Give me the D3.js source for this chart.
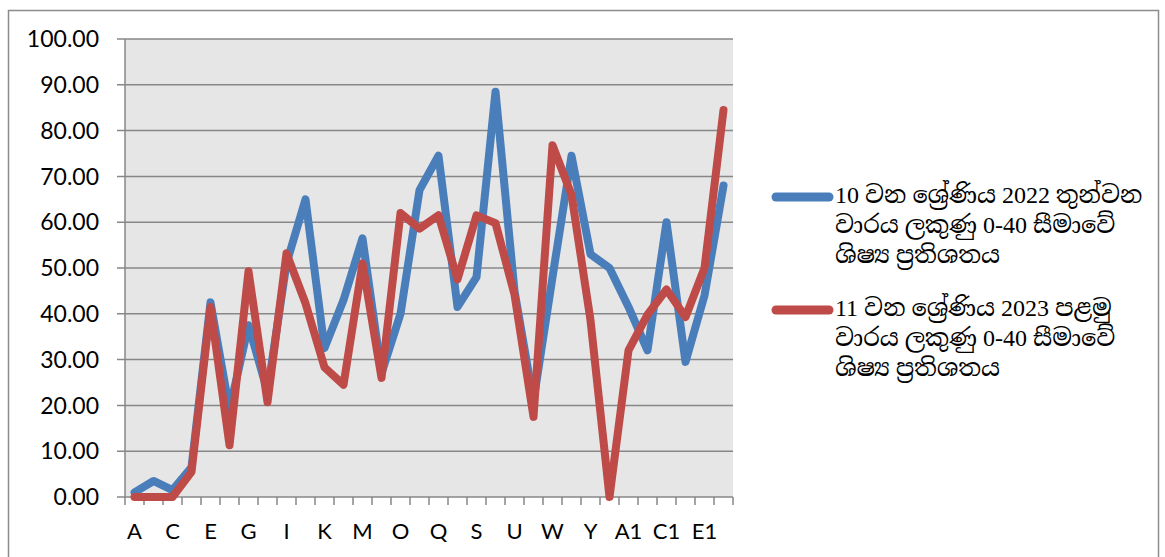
<!DOCTYPE html>
<html>
<head>
<meta charset="utf-8">
<script src="https://cdn.jsdelivr.net/npm/d3@7"></script>
<style>
  html, body { margin: 0; padding: 0; background: #fff; }
  svg { display: block; }
</style>
</head>
<body>
<svg id="chart" width="1165" height="557"></svg>
<script>
const categories = ["A","B","C","D","E","F","G","H","I","J","K","L","M","N","O","P","Q","R","S","T","U","V","W","X","Y","Z","A1","B1","C1","D1","E1","F1"];
const series2022 = [1, 3.5, 1.5, 6.5, 42.5, 19, 37.5, 23, 51, 65, 32.5, 43, 56.5, 27, 40, 67, 74.5, 41.5, 48, 88.5, 45, 21, 48, 74.5, 53, 50, 41.5, 32, 60, 29.5, 44, 68];
const series2023 = [0, 0, 0, 5.5, 41.5, 11.3, 49.3, 20.7, 53.2, 42.3, 28.3, 24.5, 51, 26, 62, 58.6, 61.5, 47.5, 61.5, 59.8, 44.2, 17.5, 76.8, 66, 38.6, 0, 32, 39.8, 45.3, 39.3, 50, 84.5];
const yTicks = [0, 10, 20, 30, 40, 50, 60, 70, 80, 90, 100];
const legendLines2022 = ["10 වන ශ්‍රේණිය 2022 තුන්වන", "වාරය ලකුණු 0-40 සීමාවේ", "ශිෂ්‍ය ප්‍රතිශතය"];
const legendLines2023 = ["11 වන ශ්‍රේණිය 2023 පළමු", "වාරය ලකුණු 0-40 සීමාවේ", "ශිෂ්‍ය ප්‍රතිශතය"];

(function () {
const svg = d3.select("#chart");
const gridColor = "#878787";
const blue = "#4a7ebb", red = "#be4b48";

// outer chart frame
svg.append("rect").attr("x", 8.5).attr("y", 10.5).attr("width", 1150).attr("height", 560)
  .attr("fill", "#fff").attr("stroke", "#8c8c8c").attr("stroke-width", 1.5);

const pLeft = 125, pRight = 733, pTop = 39, pBottom = 497;
const x = d3.scaleBand().domain(categories).range([pLeft, pRight]).padding(0);
const y = d3.scaleLinear().domain([0, 100]).range([pBottom, pTop]);

svg.append("rect").attr("x", pLeft).attr("y", pTop).attr("width", pRight - pLeft).attr("height", pBottom - pTop)
  .attr("fill", "#e6e6e6");

// y grid
svg.append("g").selectAll("line").data(yTicks).join("line")
  .attr("x1", pLeft - 8).attr("x2", pRight)
  .attr("y1", d => y(d)).attr("y2", d => y(d))
  .attr("stroke", gridColor).attr("stroke-width", 1.5);

// y axis line
svg.append("line").attr("x1", pLeft).attr("x2", pLeft).attr("y1", pTop).attr("y2", pBottom)
  .attr("stroke", gridColor).attr("stroke-width", 1.5);

// y labels
svg.append("g").selectAll("text").data(yTicks).join("text")
  .attr("x", 99).attr("y", d => y(d)).attr("dy", "0.36em")
  .attr("text-anchor", "end")
  .attr("font-family", "Lato, 'Open Sans', sans-serif").attr("font-size", 23)
  .attr("fill", "#000")
  .text(d => d3.format(".2f")(d));

// x ticks at band boundaries
const boundaries = categories.map(c => x(c)).concat([pRight]);
svg.append("g").selectAll("line").data(boundaries).join("line")
  .attr("x1", d => d).attr("x2", d => d).attr("y1", pBottom).attr("y2", pBottom + 8)
  .attr("stroke", gridColor).attr("stroke-width", 1.5);

// x labels (every other)
svg.append("g").selectAll("text").data(categories.filter((c, i) => i % 2 === 0)).join("text")
  .attr("x", d => x(d) + x.bandwidth() / 2).attr("y", 539)
  .attr("text-anchor", "middle")
  .attr("font-family", "Lato, 'Open Sans', sans-serif").attr("font-size", 22)
  .attr("fill", "#000")
  .text(d => d);

const line = d3.line()
  .x((d, i) => x(categories[i]) + x.bandwidth() / 2)
  .y(d => y(d));

[[series2022, blue], [series2023, red]].forEach(([data, color]) => {
  svg.append("path").datum(data).attr("d", line)
    .attr("fill", "none").attr("stroke", color).attr("stroke-width", 8)
    .attr("stroke-linejoin", "round").attr("stroke-linecap", "round");
});

// legend
function legend(lines, color, ly) {
  svg.append("line").attr("x1", 776).attr("x2", 829).attr("y1", ly).attr("y2", ly)
    .attr("stroke", color).attr("stroke-width", 9).attr("stroke-linecap", "round");
  svg.append("g").selectAll("text").data(lines).join("text")
    .attr("x", 835).attr("y", (d, i) => ly + 6 + i * 30)
    .attr("font-family", "'Liberation Serif', 'Noto Serif Sinhala', 'Noto Sans Sinhala', serif")
    .attr("font-size", 24).attr("fill", "#000")
    .text(d => d);
}
legend(legendLines2022, blue, 197);
legend(legendLines2023, red, 310);
})();
</script>
</body>
</html>
